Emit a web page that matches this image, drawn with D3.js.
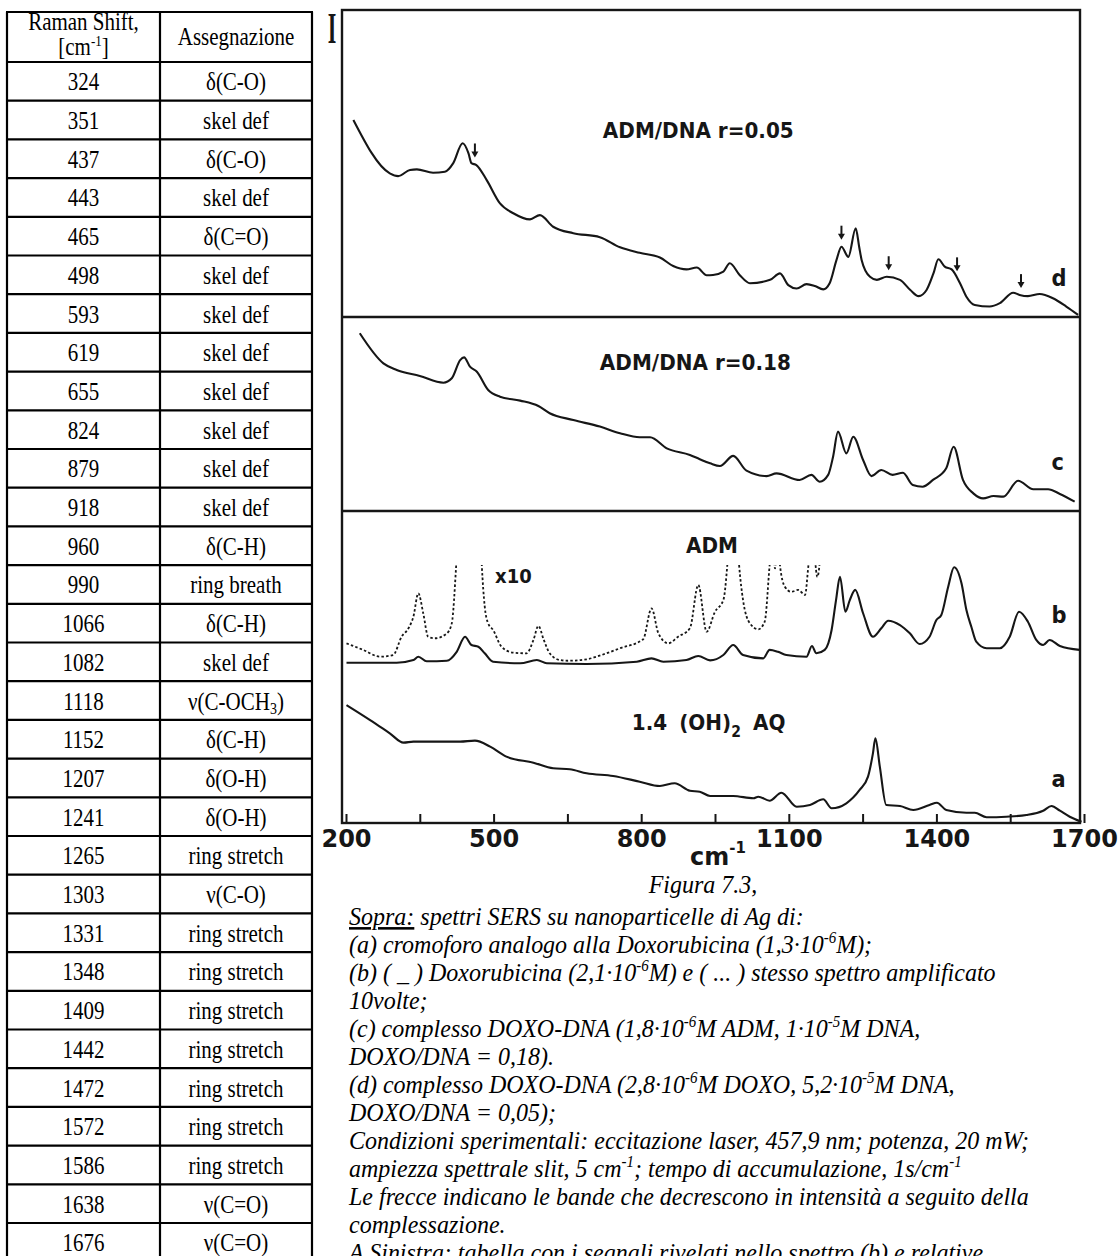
<!DOCTYPE html>
<html>
<head>
<meta charset="utf-8">
<script src="https://cdn.jsdelivr.net/npm/d3@7"></script>
<style>
  body { margin: 0; background: #fff; }
  svg { display: block; }
</style>
</head>
<body>
<svg id="fig" width="1118" height="1256"></svg>
<script>
// ---------- Band table: Raman shift and assignment ----------
const ramanShift = [324, 351, 437, 443, 465, 498, 593, 619, 655, 824, 879, 918, 960, 990, 1066, 1082,
  1118, 1152, 1207, 1241, 1265, 1303, 1331, 1348, 1409, 1442, 1472, 1572, 1586, 1638, 1676];
const assignment = ["δ(C-O)", "skel def", "δ(C-O)", "skel def", "δ(C=O)", "skel def", "skel def", "skel def",
  "skel def", "skel def", "skel def", "skel def", "δ(C-H)", "ring breath", "δ(C-H)", "skel def",
  "ν(C-OCH₃)", "δ(C-H)", "δ(O-H)", "δ(O-H)", "ring stretch", "ν(C-O)", "ring stretch", "ring stretch",
  "ring stretch", "ring stretch", "ring stretch", "ring stretch", "ring stretch", "ν(C=O)", "ν(C=O)"];

// ---------- SERS spectra: [wavenumber cm-1, intensity a.u.] ----------
// (d) ADM/DNA r = 0.05
const spectrumD = [[215,64.2],[289,46.8],[306,45.9],[330,47.9],[344,48.1],[377,47.0],[401,47.3],[418,50.1],
  [437,56.6],[449,53.3],[455,50.1],[465,49.5],[486,44.6],[513,37.0],[540,33.8],[574,31.8],[594,33.2],
  [621,29.4],[662,27.3],[716,26.0],[757,22.7],[797,20.9],[838,19.4],[865,16.6],[892,15.5],[913,16.1],
  [933,13.6],[946,13.7],[967,14.8],[980,17.5],[1000,13.7],[1021,11.0],[1062,12.1],[1082,14.2],[1099,10.4],
  [1116,9.3],[1136,10.7],[1153,10.1],[1170,9.0],[1183,11.0],[1197,18.6],[1207,22.9],[1221,19.6],[1236,28.9],
  [1243,22.9],[1248,18.6],[1265,13.1],[1279,12.1],[1299,13.1],[1326,12.1],[1347,8.8],[1364,6.8],[1380,8.8],
  [1394,14.2],[1404,18.8],[1417,16.4],[1431,15.5],[1448,11.0],[1461,6.6],[1478,3.9],[1508,3.4],[1529,4.5],
  [1556,7.9],[1569,7.2],[1586,6.8],[1610,7.5],[1637,6.1],[1664,3.4],[1688,0.7]];
// (c) ADM/DNA r = 0.18
const spectrumC = [[228,91.6],[276,76.1],[303,72.7],[350,69.6],[398,66.1],[415,68.4],[432,77.8],[440,79.2],
  [452,74.4],[466,71.8],[489,62.4],[513,58.9],[554,56.9],[591,54.1],[614,50.4],[662,46.9],[716,43.5],
  [757,40.1],[797,38.0],[818,38.0],[852,32.3],[899,28.9],[919,26.7],[940,24.6],[960,23.2],[987,28.4],
  [1014,20.8],[1055,18.0],[1075,19.4],[1122,16.0],[1146,18.6],[1163,15.1],[1180,18.6],[1190,28.0],
  [1200,40.9],[1217,29.7],[1231,38.3],[1251,26.3],[1268,18.0],[1288,21.1],[1311,18.6],[1332,19.7],
  [1352,13.4],[1372,12.5],[1393,16.0],[1420,22.0],[1435,33.1],[1454,16.0],[1475,9.1],[1495,6.5],
  [1516,7.7],[1536,7.4],[1566,15.6],[1597,11.2],[1627,11.2],[1651,8.8],[1681,4.8]];
// (b) ADM, solid trace
const spectrumB = [[201,10.2],[303,10.2],[337,11.8],[347,13.8],[364,11.1],[405,11.4],[425,16.7],[442,25.6],
  [455,20.7],[469,19.7],[482,15.8],[499,10.8],[554,9.9],[588,11.8],[608,9.9],[689,9.5],[791,10.8],
  [821,12.8],[845,10.8],[892,11.8],[916,14.2],[940,11.6],[967,14.8],[987,20.7],[1007,14.8],[1048,12.8],
  [1061,17.8],[1078,16.7],[1095,14.8],[1136,13.8],[1147,20.1],[1156,15.8],[1173,17.8],[1187,29.6],
  [1196,47.3],[1204,61.1],[1215,40.4],[1224,47.3],[1235,53.3],[1251,39.5],[1271,25.6],[1288,30.6],
  [1302,35.1],[1326,32.5],[1346,27.6],[1366,21.3],[1386,25.6],[1400,35.5],[1410,38.5],[1424,55.2],
  [1436,66.7],[1451,57.2],[1461,41.4],[1471,31.5],[1481,22.7],[1502,18.8],[1529,18.8],[1549,25.6],
  [1568,40.4],[1586,34.5],[1603,23.7],[1617,20.7],[1630,23.7],[1651,20.1],[1691,17.8]];
// (b) ADM, same spectrum amplified x10 (dotted trace, runs off scale on strong bands)
const spectrumBx10 = [[201,21.7],[235,17.8],[269,13.8],[296,14.8],[313,25.6],[327,30.6],[337,37.5],[347,51.3],
  [357,39.5],[367,25.6],[381,24.7],[405,27.6],[415,33.5],[424,68.0],[432,110],[442,150],[455,145],[465,120],
  [472,95],[476,68.0],[482,43.4],[489,33.5],[499,29.6],[516,19.7],[540,16.2],[567,15.8],[581,23.7],
  [591,32.0],[602,23.7],[614,15.8],[635,11.8],[652,11.4],[689,12.2],[709,13.8],[757,18.8],[804,24.1],
  [821,42.4],[835,27.6],[855,21.7],[875,25.6],[899,30.6],[916,56.2],[933,28.6],[950,40.4],[967,47.3],
  [975,68.0],[987,130],[999,68.0],[1007,47.3],[1021,33.5],[1038,30.0],[1051,34.5],[1061,68.0],[1066,85],
  [1072,66],[1077,85],[1082,68.0],[1092,55.2],[1105,52.2],[1119,53.3],[1133,50.3],[1140,68.0],[1148,85],
  [1158,61],[1167,85]];
// (a) 1,4-(OH)2 anthraquinone
const spectrumA = [[201,82.5],[249,72.0],[289,62.7],[317,56.2],[337,56.9],[384,56.9],[432,56.9],[462,57.6],
  [493,53.4],[526,46.4],[581,42.2],[621,38.3],[655,37.6],[689,34.8],[743,32.9],[797,28.9],[838,25.9],
  [868,27.8],[899,22.6],[919,21.9],[940,18.9],[987,18.9],[1028,17.3],[1038,18.4],[1061,15.6],[1085,21.2],
  [1116,11.4],[1143,12.6],[1170,16.6],[1187,10.3],[1217,13.8],[1244,23.1],[1261,32.4],[1271,48.7],
  [1276,59.2],[1285,39.4],[1298,12.6],[1326,11.9],[1353,9.1],[1386,12.6],[1401,14.2],[1420,9.1],
  [1461,7.2],[1478,7.2],[1502,4.0],[1542,4.4],[1583,5.6],[1617,8.6],[1634,11.9],[1651,8.6],[1671,4.4],
  [1695,0.9]];

// Bands that lose intensity on complexation (arrows on trace d)
const decreasingBands = [462, 1207, 1303, 1442, 1572];

// Axis ticks
const xLabelTicks = [200, 500, 800, 1100, 1400, 1700];
const xMinorTicks = [350, 650, 950, 1250, 1550];

// Caption lines: [text, style] segments
const captionTitle = "Figura 7.3,";
const captionLines = [
  [["Sopra:", "u"], [" spettri SERS su nanoparticelle di Ag di:"]],
  [["(a) cromoforo analogo alla Doxorubicina (1,3·10"], ["-6", "sup"], ["M);"]],
  [["(b) ( _ ) Doxorubicina (2,1·10"], ["-6", "sup"], ["M) e ( ... ) stesso spettro amplificato"]],
  [["10volte;"]],
  [["(c) complesso DOXO-DNA (1,8·10"], ["-6", "sup"], ["M ADM, 1·10"], ["-5", "sup"], ["M DNA,"]],
  [["DOXO/DNA = 0,18)."]],
  [["(d) complesso DOXO-DNA (2,8·10"], ["-6", "sup"], ["M DOXO, 5,2·10"], ["-5", "sup"], ["M DNA,"]],
  [["DOXO/DNA = 0,05);"]],
  [["Condizioni sperimentali: eccitazione laser, 457,9 nm; potenza, 20 mW;"]],
  [["ampiezza spettrale slit, 5 cm"], ["-1", "sup"], ["; tempo di accumulazione, 1s/cm"], ["-1", "sup"]],
  [["Le frecce indicano le bande che decrescono in intensità a seguito della"]],
  [["complessazione."]],
  [["A Sinistra: tabella con i segnali rivelati nello spettro (b) e relative"]]
];

// ---------- drawing ----------
const svg = d3.select("#fig");
const INK = "#161616";
const SERIF = "'Liberation Serif', 'Times New Roman', serif";
const SANS = "'DejaVu Sans', Verdana, sans-serif";

function stretchedText(parent, x, y, size, stretch) {
  return parent.append("text")
    .attr("transform", `translate(${x},${y}) scale(1,${stretch})`)
    .attr("font-family", SERIF).attr("font-size", size).attr("fill", "#000");
}

// --- table ---
const table = svg.append("g");
const tl = { left: 7, mid: 160, right: 312, top: 12, head: 62 };
const rowScale = d3.scaleBand().domain(d3.range(ramanShift.length)).range([tl.head, tl.head + 38.7 * ramanShift.length]);
const rowLines = [tl.top, tl.head].concat(ramanShift.map((d, i) => rowScale(i) + rowScale.bandwidth()));
table.selectAll("line.h").data(rowLines).join("line")
  .attr("x1", tl.left - 1).attr("x2", tl.right + 1).attr("y1", d => d).attr("y2", d => d)
  .attr("stroke", "#000").attr("stroke-width", 2.2);
table.selectAll("line.v").data([tl.left, tl.mid, tl.right]).join("line")
  .attr("x1", d => d).attr("x2", d => d).attr("y1", tl.top).attr("y2", rowLines[rowLines.length - 1])
  .attr("stroke", "#000").attr("stroke-width", 2.2);

const TS = 1.15;
const c1 = (tl.left + tl.mid) / 2, c2 = (tl.mid + tl.right) / 2;
stretchedText(table, c1, 30, 21, TS).attr("text-anchor", "middle").text("Raman Shift,");
const hdr2 = stretchedText(table, c1, 55, 21, TS).attr("text-anchor", "middle");
hdr2.append("tspan").text("[cm");
hdr2.append("tspan").attr("font-size", 13).attr("dy", -8).text("-1");
hdr2.append("tspan").attr("dy", 8).text("]");
stretchedText(table, c2, 45, 21, TS).attr("text-anchor", "middle").text("Assegnazione");

ramanShift.forEach((v, i) => {
  const yb = rowScale(i) + rowScale.bandwidth() / 2 + 9;
  stretchedText(table, c1, yb, 21, TS).attr("text-anchor", "middle").text(v);
  const t = stretchedText(table, c2, yb, 21, TS).attr("text-anchor", "middle");
  const parts = assignment[i].split("₃");
  t.append("tspan").text(parts[0]);
  if (parts.length > 1) {
    t.append("tspan").attr("font-size", 14).attr("dy", 4).text("3");
    t.append("tspan").attr("dy", -4).text(parts[1]);
  }
});

// --- spectra ---
const frame = { left: 342, right: 1080, top: 10, bottom: 823 };
const x = d3.scaleLinear().domain([200, 1700]).range([346, 1084]);
const yD = d3.scaleLinear().domain([0, 100]).range([317, 10]);
const yC = d3.scaleLinear().domain([0, 100]).range([511, 317]);
const yB = d3.scaleLinear().domain([0, 100]).range([680, 511]);
const yA = d3.scaleLinear().domain([0, 100]).range([823, 680]);

const plot = svg.append("g");

// frame and panel separators
plot.append("rect")
  .attr("x", frame.left).attr("y", frame.top)
  .attr("width", frame.right - frame.left).attr("height", frame.bottom - frame.top)
  .attr("fill", "none").attr("stroke", INK).attr("stroke-width", 2.4);
plot.selectAll("line.sep").data([yD(0), yC(0)]).join("line")
  .attr("x1", frame.left).attr("x2", frame.right).attr("y1", d => d).attr("y2", d => d)
  .attr("stroke", INK).attr("stroke-width", 2.4);

// x axis along the bottom edge, ticks pointing inward
const xAxis = d3.axisBottom(x)
  .tickValues(xLabelTicks.concat(xMinorTicks).sort((a, b) => a - b))
  .tickFormat(d => xLabelTicks.includes(d) ? d : "")
  .tickSize(-9).tickPadding(7);
const ax = plot.append("g").attr("transform", `translate(0,${frame.bottom})`).call(xAxis);
ax.select(".domain").remove();
ax.selectAll(".tick line").attr("stroke", INK).attr("stroke-width", 2);
ax.selectAll(".tick text").attr("font-family", SANS).attr("font-weight", "bold")
  .attr("font-size", 24).attr("fill", INK);

// axis titles
const cm = plot.append("text").attr("x", 690).attr("y", 865)
  .attr("font-family", SANS).attr("font-weight", "bold").attr("font-size", 24).attr("fill", INK);
cm.append("tspan").text("cm");
cm.append("tspan").attr("font-size", 15).attr("dy", -12).text("-1");
plot.append("text").attr("transform", "translate(332,43) scale(0.5,1)")
  .attr("text-anchor", "middle").attr("font-family", SERIF).attr("font-weight", "bold")
  .attr("font-size", 44).attr("fill", INK).text("I");

// traces
const lineFor = y => d3.line().x(d => x(d[0])).y(d => y(d[1])).curve(d3.curveMonotoneX);
function trace(data, y, dashed) {
  return plot.append("path").datum(data)
    .attr("d", lineFor(y))
    .attr("fill", "none").attr("stroke", INK)
    .attr("stroke-width", dashed ? 1.8 : 2.1)
    .attr("stroke-linejoin", "round")
    .attr("stroke-dasharray", dashed ? "2.5,2.2" : null);
}
trace(spectrumD, yD);
trace(spectrumC, yC);
trace(spectrumB, yB);
trace(spectrumA, yA);

// amplified trace runs off the top of the recorder scale
svg.append("defs").append("clipPath").attr("id", "x10clip")
  .append("rect").attr("x", frame.left).attr("width", frame.right - frame.left)
  .attr("y", yB(68)).attr("height", yB(0) - yB(68));
trace(spectrumBx10, yB, true).attr("clip-path", "url(#x10clip)");

// arrows on trace d
const interpD = w => {
  const i = d3.bisector(d => d[0]).left(spectrumD, w);
  const a = spectrumD[Math.max(0, i - 1)], b = spectrumD[Math.min(spectrumD.length - 1, i)];
  return a[0] === b[0] ? a[1] : a[1] + (b[1] - a[1]) * (w - a[0]) / (b[0] - a[0]);
};
const arrows = plot.selectAll("g.arrow").data(decreasingBands).join("g")
  .attr("transform", d => `translate(${x(d)},${yD(interpD(d)) - 7})`);
arrows.append("line").attr("x1", 0).attr("x2", 0).attr("y1", -14).attr("y2", -4)
  .attr("stroke", INK).attr("stroke-width", 2);
arrows.append("path").attr("d", "M-3.5,-6 L3.5,-6 L0,0 Z").attr("fill", INK);

// panel labels
function panelLabel(px, py, size) {
  return plot.append("text").attr("transform", `translate(${px},${py}) scale(1,1.1)`)
    .attr("font-family", SANS).attr("font-weight", "bold").attr("font-size", size).attr("fill", INK);
}
panelLabel(x(722), 138, 20).text("ADM/DNA r=0.05");
panelLabel(x(716), 370, 20).text("ADM/DNA r=0.18");
panelLabel(x(891), 553, 20).text("ADM");
panelLabel(x(503), 583, 18).text("x10");
const aq = panelLabel(x(781), 730, 20).attr("word-spacing", 5);
aq.append("tspan").text("1.4 (OH)");
aq.append("tspan").attr("font-size", 14).attr("dy", 6).text("2");
aq.append("tspan").attr("dy", -6).text(" AQ");
[["d", yD, 10], ["c", yC, 21], ["b", yB, 34], ["a", yA, 25]].forEach(([t, y, v]) => {
  panelLabel(x(1634), y(v), 21).text(t);
});

// --- caption ---
const cap = svg.append("g");
const CS = 1.07;
stretchedText(cap, 703, 893, 24, CS).attr("text-anchor", "middle").attr("font-style", "italic").text(captionTitle);
captionLines.forEach((segs, i) => {
  const t = stretchedText(cap, 349, 925 + 28 * i, 24, CS).attr("font-style", "italic");
  let raised = false;
  segs.forEach(([txt, style]) => {
    const ts = t.append("tspan").text(txt);
    if (style === "sup") { ts.attr("font-size", 15).attr("dy", -9); raised = true; }
    else {
      if (raised) { ts.attr("dy", 9); raised = false; }
      if (style === "u") ts.attr("text-decoration", "underline");
    }
  });
});
</script>
</body>
</html>
